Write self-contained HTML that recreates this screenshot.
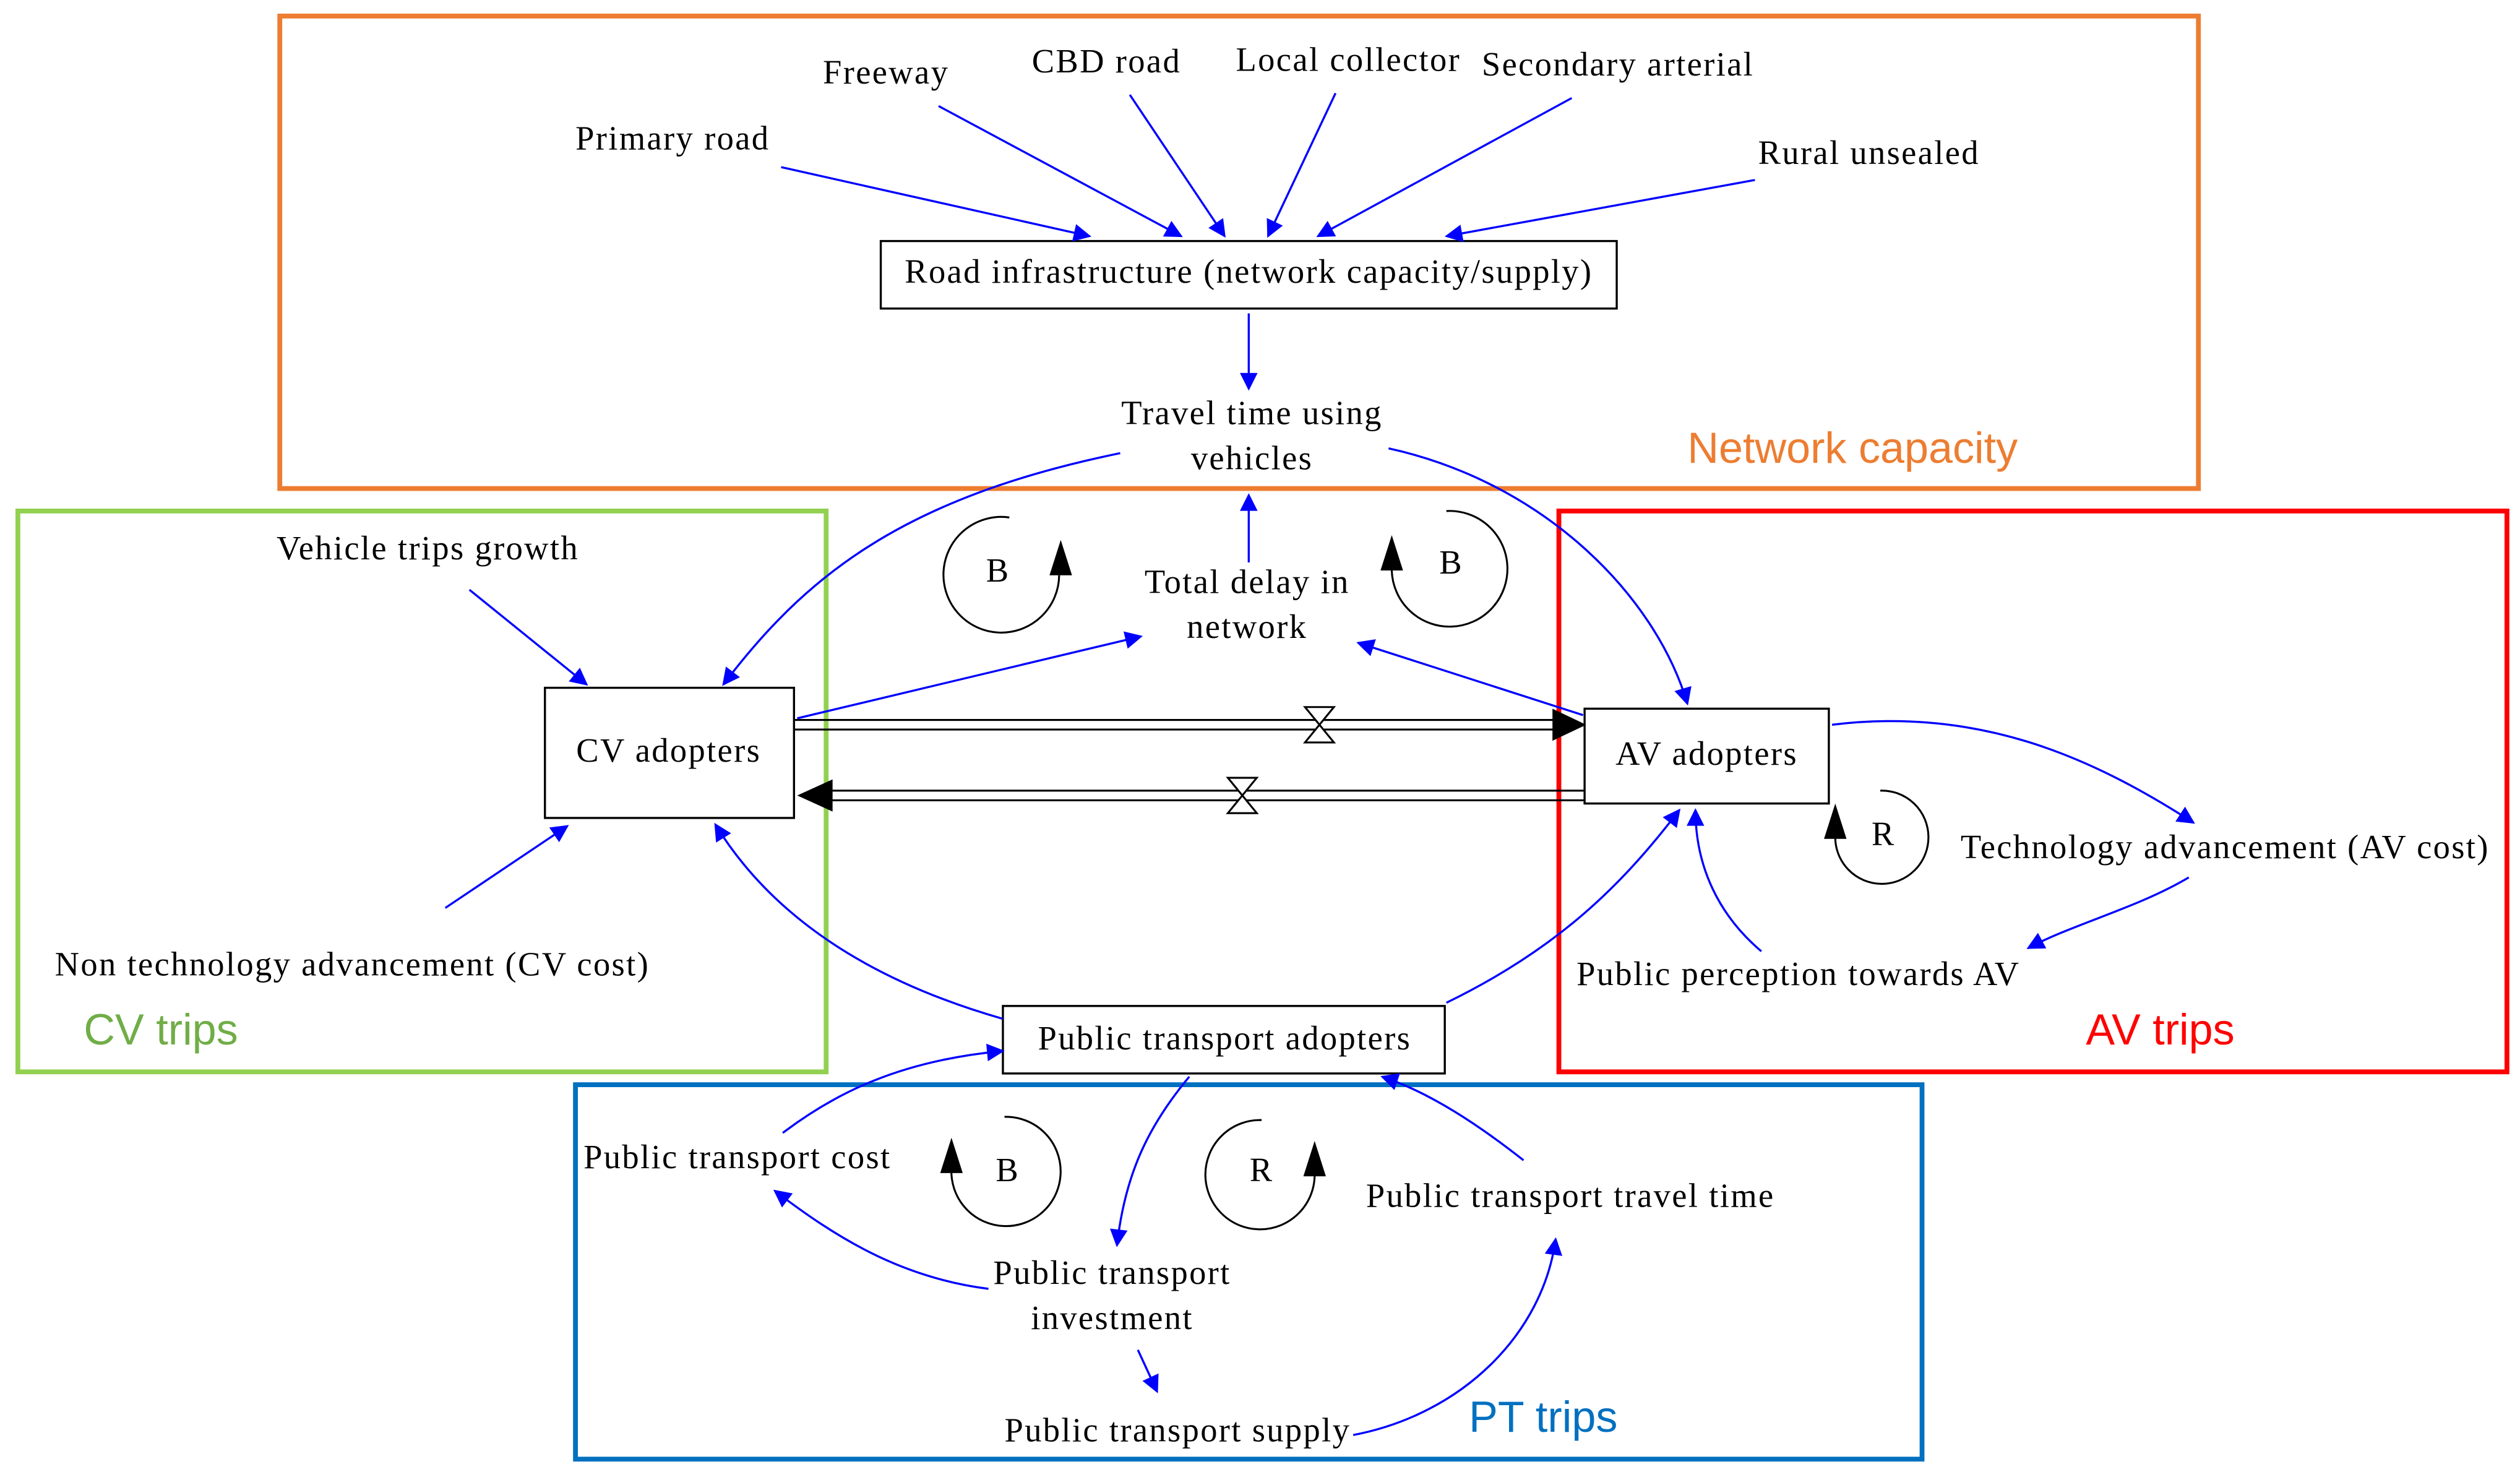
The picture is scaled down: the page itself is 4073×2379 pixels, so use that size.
<!DOCTYPE html>
<html><head><meta charset="utf-8"><style>html,body{margin:0;padding:0;background:#fff}svg{display:block}</style></head><body>
<svg width="4073" height="2379" viewBox="0 0 1568 916" xmlns="http://www.w3.org/2000/svg">
<defs>
<marker id="a" viewBox="0 0 10 10" refX="9" refY="5" markerWidth="15" markerHeight="11" orient="auto" markerUnits="userSpaceOnUse"><path d="M0,0L10,5L0,10z" fill="#0000FF"/></marker>
</defs>
<rect width="1568" height="916" fill="#fff"/>
<g fill="none" stroke-width="3">
<rect x="174" y="10" width="1194" height="294" stroke="#ED7D31"/>
<rect x="11" y="318" width="503" height="349" stroke="#92D050"/>
<rect x="970" y="318" width="590" height="349" stroke="#FF0000"/>
<rect x="358" y="675" width="838" height="233" stroke="#0070C0"/>
</g>
<g font-family="'Liberation Sans',sans-serif" font-size="27">
<text x="1050" y="288" fill="#ED7D31">Network capacity</text>
<text x="52" y="650" fill="#70AD47">CV trips</text>
<text x="1298" y="650" fill="#FF0000">AV trips</text>
<text x="914" y="891" fill="#0070C0">PT trips</text>
</g>
<g fill="#fff" stroke="#000" stroke-width="1.3">
<rect x="548" y="150" width="458" height="42"/>
<rect x="339" y="428" width="155" height="81"/>
<rect x="986" y="441" width="152" height="59"/>
<rect x="624" y="626" width="275" height="42"/>
</g>
<g font-family="'Liberation Serif',serif" font-size="21" fill="#000" letter-spacing="0.9">
<text x="777" y="176" text-anchor="middle">Road infrastructure (network capacity/supply)</text>
<text x="416" y="474" text-anchor="middle">CV adopters</text>
<text x="1062" y="476" text-anchor="middle">AV adopters</text>
<text x="762" y="653" text-anchor="middle">Public transport adopters</text>
<text x="512" y="52">Freeway</text>
<text x="642" y="45">CBD road</text>
<text x="769" y="44">Local collector</text>
<text x="922" y="47">Secondary arterial</text>
<text x="358" y="93">Primary road</text>
<text x="1094" y="102">Rural unsealed</text>
<text x="779" y="264" text-anchor="middle">Travel time using</text>
<text x="779" y="292" text-anchor="middle">vehicles</text>
<text x="776" y="369" text-anchor="middle">Total delay in</text>
<text x="776" y="397" text-anchor="middle">network</text>
<text x="172" y="348">Vehicle trips growth</text>
<text x="34" y="607">Non technology advancement (CV cost)</text>
<text x="1220" y="534">Technology advancement (AV cost)</text>
<text x="981" y="613">Public perception towards AV</text>
<text x="363" y="727">Public transport cost</text>
<text x="850" y="751">Public transport travel time</text>
<text x="692" y="799" text-anchor="middle">Public transport</text>
<text x="692" y="827" text-anchor="middle">investment</text>
<text x="625" y="897">Public transport supply</text>
<text x="621" y="362" text-anchor="middle">B</text>
<text x="903" y="357" text-anchor="middle">B</text>
<text x="1172" y="526" text-anchor="middle">R</text>
<text x="627" y="735" text-anchor="middle">B</text>
<text x="785" y="735" text-anchor="middle">R</text>
</g>
<g fill="none" stroke="#0000FF" stroke-width="1.3" marker-end="url(#a)">
<path d="M584,66L735,147"/>
<path d="M703,59L762,147"/>
<path d="M831,58L789,147"/>
<path d="M978,61L820,147"/>
<path d="M486,104L678,147"/>
<path d="M1092,112L900,147"/>
<path d="M777,195L777,242"/>
<path d="M777,350L777,308"/>
<path d="M697,282C560,310 500,360 450,426"/>
<path d="M864,279C960,300 1030,370 1050,438"/>
<path d="M496,447L710,396"/>
<path d="M985,445L845,400"/>
<path d="M292,367L365,426"/>
<path d="M277,565L353,514"/>
<path d="M624,634C540,610 480,570 445,513"/>
<path d="M900,624C970,590 1010,550 1045,504"/>
<path d="M1096,592C1070,570 1055,540 1055,504"/>
<path d="M1140,451C1230,440 1300,470 1365,512"/>
<path d="M1362,546C1330,565 1290,575 1262,590"/>
<path d="M487,705C520,680 560,660 624,654"/>
<path d="M615,802C560,795 520,770 482,741"/>
<path d="M740,670C715,700 700,730 695,775"/>
<path d="M708,840L720,866"/>
<path d="M842,893C910,880 960,830 968,771"/>
<path d="M948,722C920,700 890,680 860,670"/>
</g>
<g fill="none" stroke="#000" stroke-width="1.2">
<path d="M494,448L970,448M494,454L970,454"/>
<path d="M515,492L986,492M515,498L986,498"/>
<path d="M659,358A36,36 0 1 1 628,322"/>
<path d="M866,355A36,36 0 1 0 900,318"/>
<path d="M1142,520A29,29 0 1 0 1170,492"/>
<path d="M592,727A34,34 0 1 0 625,695"/>
<path d="M818,730A34,34 0 1 1 785,697"/>
</g>
<g fill="#000">
<path d="M966,441L987,451L966,461z"/>
<path d="M496,495L518,485L518,505z"/>
<path d="M653,358L660,336L667,358z"/>
<path d="M859,355L866,333L873,355z"/>
<path d="M1135,522L1142,500L1149,522z"/>
<path d="M585,730L592,708L599,730z"/>
<path d="M811,732L818,710L825,732z"/>
</g>
<g fill="#fff" stroke="#000" stroke-width="1.2">
<path d="M812,440L830,440L812,462L830,462z"/>
<path d="M764,484L782,484L764,506L782,506z"/>
</g>
</svg>
</body></html>
